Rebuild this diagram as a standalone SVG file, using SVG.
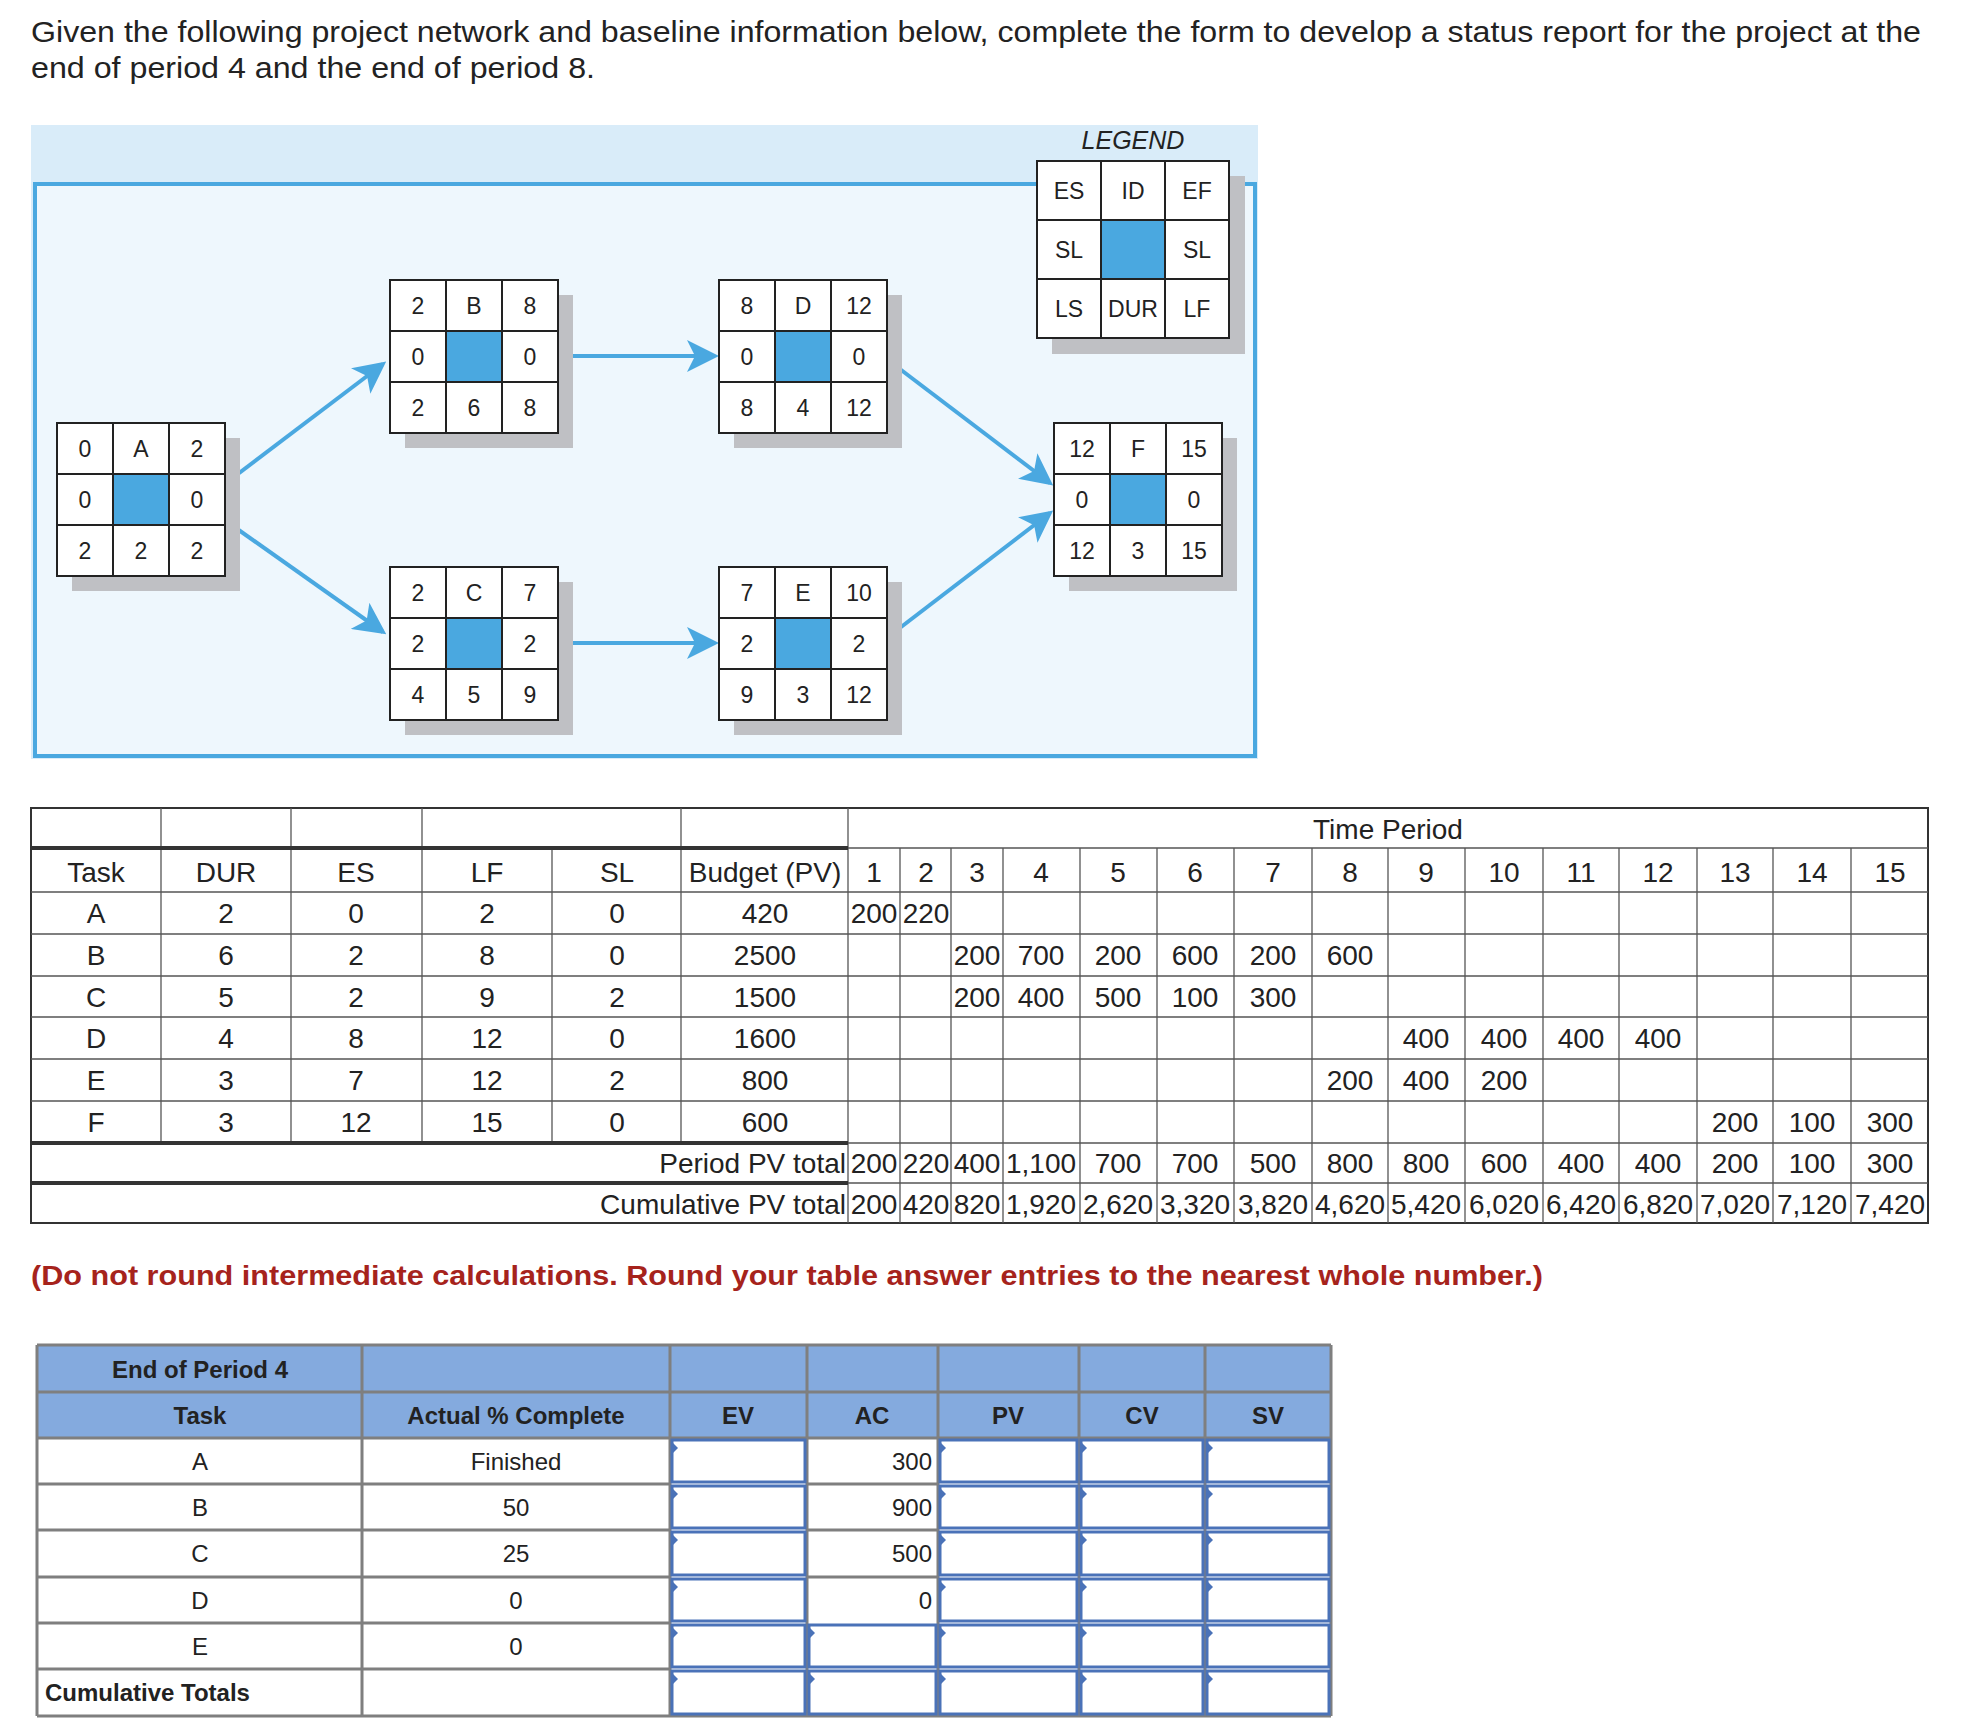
<svg xmlns="http://www.w3.org/2000/svg" width="1974" height="1720" viewBox="0 0 1974 1720">
<style>
text{font-family:"Liberation Sans",Arial,sans-serif;fill:#222}
.t{font-size:29px}
.n{font-size:23px;text-anchor:middle}
.cell{fill:#fff;stroke:#222;stroke-width:2}
.mid{fill:#4aa8e0;stroke:#222;stroke-width:2}
.sh{fill:#bfc0c4}
.tb{font-size:28px;text-anchor:middle}
.g{stroke:#555;stroke-width:1.3}
.gk{stroke:#333;stroke-width:4}
.h{font-size:24px;text-anchor:middle}
.hb{font-size:24px;text-anchor:middle;font-weight:bold}
.inp{fill:#fff;stroke:#4a72b8;stroke-width:3}
.tri{fill:#4a72b8}
.conn line{stroke:#4aa8e0;stroke-width:4}
</style>
<defs>
<marker id="ah" markerWidth="8" markerHeight="8" refX="7" refY="4" orient="auto" markerUnits="strokeWidth"><path d="M0,0 L8,4 L0,8 L2,4 Z" fill="#4aa8e0"/></marker>
</defs>
<rect width="1974" height="1720" fill="#fff"/>
<text class="t" x="31" y="42" textLength="1890" lengthAdjust="spacingAndGlyphs">Given the following project network and baseline information below, complete the form to develop a status report for the project at the</text>
<text class="t" x="31" y="78" textLength="564" lengthAdjust="spacingAndGlyphs">end of period 4 and the end of period 8.</text>
<rect x="31" y="125" width="1227" height="634" fill="#d9ecf9"/>
<rect x="35" y="184" width="1220" height="572" fill="#eef7fd" stroke="#4aa8e0" stroke-width="4"/>
<text x="1133" y="149" font-size="25" font-style="italic" text-anchor="middle">LEGEND</text>
<g id="legend">
<rect class="sh" x="1052" y="176" width="193" height="178"/>
<rect class="cell" x="1037" y="161" width="64" height="59"/><rect class="cell" x="1101" y="161" width="64" height="59"/><rect class="cell" x="1165" y="161" width="64" height="59"/>
<rect class="cell" x="1037" y="220" width="64" height="59"/><rect class="mid" x="1101" y="220" width="64" height="59"/><rect class="cell" x="1165" y="220" width="64" height="59"/>
<rect class="cell" x="1037" y="279" width="64" height="59"/><rect class="cell" x="1101" y="279" width="64" height="59"/><rect class="cell" x="1165" y="279" width="64" height="59"/>
<text class="n" x="1069" y="199">ES</text><text class="n" x="1133" y="199">ID</text><text class="n" x="1197" y="199">EF</text>
<text class="n" x="1069" y="258">SL</text><text class="n" x="1197" y="258">SL</text>
<text class="n" x="1069" y="317">LS</text><text class="n" x="1133" y="317">DUR</text><text class="n" x="1197" y="317">LF</text>
</g>
<g class="conn" id="connectors">
<line x1="226" y1="483" x2="383" y2="364" marker-end="url(#ah)"/>
<line x1="226" y1="521" x2="383" y2="632" marker-end="url(#ah)"/>
<line x1="559" y1="356" x2="715" y2="356" marker-end="url(#ah)"/>
<line x1="559" y1="643" x2="715" y2="643" marker-end="url(#ah)"/>
<line x1="888" y1="360" x2="1050" y2="483" marker-end="url(#ah)"/>
<line x1="888" y1="637" x2="1050" y2="513" marker-end="url(#ah)"/>
</g>
<g id="nodeA" transform="translate(57,423)">
<rect class="sh" x="15" y="15" width="168" height="153"/>
<rect class="cell" x="0" y="0" width="56" height="51"/><rect class="cell" x="56" y="0" width="56" height="51"/><rect class="cell" x="112" y="0" width="56" height="51"/>
<rect class="cell" x="0" y="51" width="56" height="51"/><rect class="mid" x="56" y="51" width="56" height="51"/><rect class="cell" x="112" y="51" width="56" height="51"/>
<rect class="cell" x="0" y="102" width="56" height="51"/><rect class="cell" x="56" y="102" width="56" height="51"/><rect class="cell" x="112" y="102" width="56" height="51"/>
<text class="n" x="28" y="34">0</text><text class="n" x="84" y="34">A</text><text class="n" x="140" y="34">2</text>
<text class="n" x="28" y="85">0</text><text class="n" x="140" y="85">0</text>
<text class="n" x="28" y="136">2</text><text class="n" x="84" y="136">2</text><text class="n" x="140" y="136">2</text>
</g>
<g id="nodeB" transform="translate(390,280)">
<rect class="sh" x="15" y="15" width="168" height="153"/>
<rect class="cell" x="0" y="0" width="56" height="51"/><rect class="cell" x="56" y="0" width="56" height="51"/><rect class="cell" x="112" y="0" width="56" height="51"/>
<rect class="cell" x="0" y="51" width="56" height="51"/><rect class="mid" x="56" y="51" width="56" height="51"/><rect class="cell" x="112" y="51" width="56" height="51"/>
<rect class="cell" x="0" y="102" width="56" height="51"/><rect class="cell" x="56" y="102" width="56" height="51"/><rect class="cell" x="112" y="102" width="56" height="51"/>
<text class="n" x="28" y="34">2</text><text class="n" x="84" y="34">B</text><text class="n" x="140" y="34">8</text>
<text class="n" x="28" y="85">0</text><text class="n" x="140" y="85">0</text>
<text class="n" x="28" y="136">2</text><text class="n" x="84" y="136">6</text><text class="n" x="140" y="136">8</text>
</g>
<g id="nodeC" transform="translate(390,567)">
<rect class="sh" x="15" y="15" width="168" height="153"/>
<rect class="cell" x="0" y="0" width="56" height="51"/><rect class="cell" x="56" y="0" width="56" height="51"/><rect class="cell" x="112" y="0" width="56" height="51"/>
<rect class="cell" x="0" y="51" width="56" height="51"/><rect class="mid" x="56" y="51" width="56" height="51"/><rect class="cell" x="112" y="51" width="56" height="51"/>
<rect class="cell" x="0" y="102" width="56" height="51"/><rect class="cell" x="56" y="102" width="56" height="51"/><rect class="cell" x="112" y="102" width="56" height="51"/>
<text class="n" x="28" y="34">2</text><text class="n" x="84" y="34">C</text><text class="n" x="140" y="34">7</text>
<text class="n" x="28" y="85">2</text><text class="n" x="140" y="85">2</text>
<text class="n" x="28" y="136">4</text><text class="n" x="84" y="136">5</text><text class="n" x="140" y="136">9</text>
</g>
<g id="nodeD" transform="translate(719,280)">
<rect class="sh" x="15" y="15" width="168" height="153"/>
<rect class="cell" x="0" y="0" width="56" height="51"/><rect class="cell" x="56" y="0" width="56" height="51"/><rect class="cell" x="112" y="0" width="56" height="51"/>
<rect class="cell" x="0" y="51" width="56" height="51"/><rect class="mid" x="56" y="51" width="56" height="51"/><rect class="cell" x="112" y="51" width="56" height="51"/>
<rect class="cell" x="0" y="102" width="56" height="51"/><rect class="cell" x="56" y="102" width="56" height="51"/><rect class="cell" x="112" y="102" width="56" height="51"/>
<text class="n" x="28" y="34">8</text><text class="n" x="84" y="34">D</text><text class="n" x="140" y="34">12</text>
<text class="n" x="28" y="85">0</text><text class="n" x="140" y="85">0</text>
<text class="n" x="28" y="136">8</text><text class="n" x="84" y="136">4</text><text class="n" x="140" y="136">12</text>
</g>
<g id="nodeE" transform="translate(719,567)">
<rect class="sh" x="15" y="15" width="168" height="153"/>
<rect class="cell" x="0" y="0" width="56" height="51"/><rect class="cell" x="56" y="0" width="56" height="51"/><rect class="cell" x="112" y="0" width="56" height="51"/>
<rect class="cell" x="0" y="51" width="56" height="51"/><rect class="mid" x="56" y="51" width="56" height="51"/><rect class="cell" x="112" y="51" width="56" height="51"/>
<rect class="cell" x="0" y="102" width="56" height="51"/><rect class="cell" x="56" y="102" width="56" height="51"/><rect class="cell" x="112" y="102" width="56" height="51"/>
<text class="n" x="28" y="34">7</text><text class="n" x="84" y="34">E</text><text class="n" x="140" y="34">10</text>
<text class="n" x="28" y="85">2</text><text class="n" x="140" y="85">2</text>
<text class="n" x="28" y="136">9</text><text class="n" x="84" y="136">3</text><text class="n" x="140" y="136">12</text>
</g>
<g id="nodeF" transform="translate(1054,423)">
<rect class="sh" x="15" y="15" width="168" height="153"/>
<rect class="cell" x="0" y="0" width="56" height="51"/><rect class="cell" x="56" y="0" width="56" height="51"/><rect class="cell" x="112" y="0" width="56" height="51"/>
<rect class="cell" x="0" y="51" width="56" height="51"/><rect class="mid" x="56" y="51" width="56" height="51"/><rect class="cell" x="112" y="51" width="56" height="51"/>
<rect class="cell" x="0" y="102" width="56" height="51"/><rect class="cell" x="56" y="102" width="56" height="51"/><rect class="cell" x="112" y="102" width="56" height="51"/>
<text class="n" x="28" y="34">12</text><text class="n" x="84" y="34">F</text><text class="n" x="140" y="34">15</text>
<text class="n" x="28" y="85">0</text><text class="n" x="140" y="85">0</text>
<text class="n" x="28" y="136">12</text><text class="n" x="84" y="136">3</text><text class="n" x="140" y="136">15</text>
</g>
<g id="pvtable">
<rect x="31" y="808" width="1897" height="415" fill="#fff" stroke="#333" stroke-width="2"/>
<g class="g">
<line x1="31" y1="848" x2="1928" y2="848"/><line x1="31" y1="892" x2="1928" y2="892"/><line x1="31" y1="934" x2="1928" y2="934"/><line x1="31" y1="976" x2="1928" y2="976"/><line x1="31" y1="1017" x2="1928" y2="1017"/><line x1="31" y1="1059" x2="1928" y2="1059"/><line x1="31" y1="1101" x2="1928" y2="1101"/><line x1="31" y1="1143" x2="1928" y2="1143"/><line x1="31" y1="1183" x2="1928" y2="1183"/>
<line x1="161" y1="808" x2="161" y2="1143"/><line x1="291" y1="808" x2="291" y2="1143"/><line x1="422" y1="808" x2="422" y2="1143"/><line x1="552" y1="848" x2="552" y2="1143"/><line x1="681" y1="808" x2="681" y2="1143"/><line x1="848" y1="808" x2="848" y2="1223"/>
<line x1="900" y1="848" x2="900" y2="1223"/><line x1="951" y1="848" x2="951" y2="1223"/><line x1="1003" y1="848" x2="1003" y2="1223"/><line x1="1080" y1="848" x2="1080" y2="1223"/><line x1="1157" y1="848" x2="1157" y2="1223"/><line x1="1234" y1="848" x2="1234" y2="1223"/><line x1="1312" y1="848" x2="1312" y2="1223"/><line x1="1388" y1="848" x2="1388" y2="1223"/><line x1="1465" y1="848" x2="1465" y2="1223"/><line x1="1543" y1="848" x2="1543" y2="1223"/><line x1="1619" y1="848" x2="1619" y2="1223"/><line x1="1697" y1="848" x2="1697" y2="1223"/><line x1="1773" y1="848" x2="1773" y2="1223"/><line x1="1851" y1="848" x2="1851" y2="1223"/>
</g>
<line class="gk" x1="31" y1="848" x2="848" y2="848"/><line class="gk" x1="31" y1="1143" x2="848" y2="1143"/><line class="gk" x1="31" y1="1183" x2="848" y2="1183"/>
<text class="tb" x="1388" y="839">Time Period</text>
<g class="tb">
<text class="tb" x="96" y="882">Task</text><text class="tb" x="226" y="882">DUR</text><text class="tb" x="356" y="882">ES</text><text class="tb" x="487" y="882">LF</text><text class="tb" x="617" y="882">SL</text><text class="tb" x="765" y="882">Budget (PV)</text>
<text class="tb" x="874" y="882">1</text><text class="tb" x="926" y="882">2</text><text class="tb" x="977" y="882">3</text><text class="tb" x="1041" y="882">4</text><text class="tb" x="1118" y="882">5</text><text class="tb" x="1195" y="882">6</text><text class="tb" x="1273" y="882">7</text><text class="tb" x="1350" y="882">8</text><text class="tb" x="1426" y="882">9</text><text class="tb" x="1504" y="882">10</text><text class="tb" x="1581" y="882">11</text><text class="tb" x="1658" y="882">12</text><text class="tb" x="1735" y="882">13</text><text class="tb" x="1812" y="882">14</text><text class="tb" x="1890" y="882">15</text>
</g>
<text class="tb" x="96" y="923">A</text><text class="tb" x="226" y="923">2</text><text class="tb" x="356" y="923">0</text><text class="tb" x="487" y="923">2</text><text class="tb" x="617" y="923">0</text><text class="tb" x="765" y="923">420</text><text class="tb" x="874" y="923">200</text><text class="tb" x="926" y="923">220</text>
<text class="tb" x="96" y="965">B</text><text class="tb" x="226" y="965">6</text><text class="tb" x="356" y="965">2</text><text class="tb" x="487" y="965">8</text><text class="tb" x="617" y="965">0</text><text class="tb" x="765" y="965">2500</text><text class="tb" x="977" y="965">200</text><text class="tb" x="1041" y="965">700</text><text class="tb" x="1118" y="965">200</text><text class="tb" x="1195" y="965">600</text><text class="tb" x="1273" y="965">200</text><text class="tb" x="1350" y="965">600</text>
<text class="tb" x="96" y="1007">C</text><text class="tb" x="226" y="1007">5</text><text class="tb" x="356" y="1007">2</text><text class="tb" x="487" y="1007">9</text><text class="tb" x="617" y="1007">2</text><text class="tb" x="765" y="1007">1500</text><text class="tb" x="977" y="1007">200</text><text class="tb" x="1041" y="1007">400</text><text class="tb" x="1118" y="1007">500</text><text class="tb" x="1195" y="1007">100</text><text class="tb" x="1273" y="1007">300</text>
<text class="tb" x="96" y="1048">D</text><text class="tb" x="226" y="1048">4</text><text class="tb" x="356" y="1048">8</text><text class="tb" x="487" y="1048">12</text><text class="tb" x="617" y="1048">0</text><text class="tb" x="765" y="1048">1600</text><text class="tb" x="1426" y="1048">400</text><text class="tb" x="1504" y="1048">400</text><text class="tb" x="1581" y="1048">400</text><text class="tb" x="1658" y="1048">400</text>
<text class="tb" x="96" y="1090">E</text><text class="tb" x="226" y="1090">3</text><text class="tb" x="356" y="1090">7</text><text class="tb" x="487" y="1090">12</text><text class="tb" x="617" y="1090">2</text><text class="tb" x="765" y="1090">800</text><text class="tb" x="1350" y="1090">200</text><text class="tb" x="1426" y="1090">400</text><text class="tb" x="1504" y="1090">200</text>
<text class="tb" x="96" y="1132">F</text><text class="tb" x="226" y="1132">3</text><text class="tb" x="356" y="1132">12</text><text class="tb" x="487" y="1132">15</text><text class="tb" x="617" y="1132">0</text><text class="tb" x="765" y="1132">600</text><text class="tb" x="1735" y="1132">200</text><text class="tb" x="1812" y="1132">100</text><text class="tb" x="1890" y="1132">300</text>
<text x="846" y="1173" font-size="28" text-anchor="end">Period PV total</text>
<text class="tb" x="874" y="1173">200</text><text class="tb" x="926" y="1173">220</text><text class="tb" x="977" y="1173">400</text><text class="tb" x="1041" y="1173">1,100</text><text class="tb" x="1118" y="1173">700</text><text class="tb" x="1195" y="1173">700</text><text class="tb" x="1273" y="1173">500</text><text class="tb" x="1350" y="1173">800</text><text class="tb" x="1426" y="1173">800</text><text class="tb" x="1504" y="1173">600</text><text class="tb" x="1581" y="1173">400</text><text class="tb" x="1658" y="1173">400</text><text class="tb" x="1735" y="1173">200</text><text class="tb" x="1812" y="1173">100</text><text class="tb" x="1890" y="1173">300</text>
<text x="846" y="1214" font-size="28" text-anchor="end">Cumulative PV total</text>
<text class="tb" x="874" y="1214">200</text><text class="tb" x="926" y="1214">420</text><text class="tb" x="977" y="1214">820</text><text class="tb" x="1041" y="1214">1,920</text><text class="tb" x="1118" y="1214">2,620</text><text class="tb" x="1195" y="1214">3,320</text><text class="tb" x="1273" y="1214">3,820</text><text class="tb" x="1350" y="1214">4,620</text><text class="tb" x="1426" y="1214">5,420</text><text class="tb" x="1504" y="1214">6,020</text><text class="tb" x="1581" y="1214">6,420</text><text class="tb" x="1658" y="1214">6,820</text><text class="tb" x="1735" y="1214">7,020</text><text class="tb" x="1812" y="1214">7,120</text><text class="tb" x="1890" y="1214">7,420</text>
</g>
<text x="31" y="1285" font-size="27" font-weight="bold" style="fill:#a6231c" textLength="1512" lengthAdjust="spacingAndGlyphs">(Do not round intermediate calculations. Round your table answer entries to the nearest whole number.)</text>
<g id="statustable">
<rect x="37" y="1345" width="1294" height="93" fill="#84aade"/>
<rect x="37" y="1438" width="1294" height="278" fill="#fff"/>
<g stroke="#7f7f7f" stroke-width="3">
<line x1="37" y1="1345" x2="1331" y2="1345"/><line x1="37" y1="1392" x2="1331" y2="1392"/><line x1="37" y1="1438" x2="1331" y2="1438"/><line x1="37" y1="1484" x2="670" y2="1484"/><line x1="37" y1="1530" x2="670" y2="1530"/><line x1="37" y1="1577" x2="670" y2="1577"/><line x1="37" y1="1623" x2="670" y2="1623"/><line x1="37" y1="1669" x2="670" y2="1669"/><line x1="37" y1="1716" x2="1331" y2="1716"/>
<line x1="37" y1="1345" x2="37" y2="1716"/><line x1="362" y1="1345" x2="362" y2="1716"/><line x1="670" y1="1345" x2="670" y2="1716"/><line x1="807" y1="1345" x2="807" y2="1716"/><line x1="938" y1="1345" x2="938" y2="1716"/><line x1="1079" y1="1345" x2="1079" y2="1716"/><line x1="1205" y1="1345" x2="1205" y2="1716"/><line x1="1331" y1="1345" x2="1331" y2="1716"/>
<line x1="807" y1="1484" x2="938" y2="1484"/><line x1="807" y1="1530" x2="938" y2="1530"/><line x1="807" y1="1577" x2="938" y2="1577"/>
</g>
<text x="200" y="1378" class="hb">End of Period 4</text>
<text x="200" y="1424" class="hb">Task</text><text x="516" y="1424" class="hb">Actual % Complete</text><text x="738" y="1424" class="hb">EV</text><text x="872" y="1424" class="hb">AC</text><text x="1008" y="1424" class="hb">PV</text><text x="1142" y="1424" class="hb">CV</text><text x="1268" y="1424" class="hb">SV</text>
<text x="200" y="1470" class="h">A</text><text x="516" y="1470" class="h">Finished</text><text x="932" y="1470" class="h" text-anchor="end" style="text-anchor:end">300</text>
<text x="200" y="1516" class="h">B</text><text x="516" y="1516" class="h">50</text><text x="932" y="1516" style="text-anchor:end;font-size:24px">900</text>
<text x="200" y="1562" class="h">C</text><text x="516" y="1562" class="h">25</text><text x="932" y="1562" style="text-anchor:end;font-size:24px">500</text>
<text x="200" y="1609" class="h">D</text><text x="516" y="1609" class="h">0</text><text x="932" y="1609" style="text-anchor:end;font-size:24px">0</text>
<text x="200" y="1655" class="h">E</text><text x="516" y="1655" class="h">0</text>
<text x="45" y="1701" font-size="24" font-weight="bold">Cumulative Totals</text>
<g id="inputs">
<rect class="inp" x="672" y="1440" width="133" height="42"/><rect class="inp" x="940" y="1440" width="137" height="42"/><rect class="inp" x="1081" y="1440" width="122" height="42"/><rect class="inp" x="1207" y="1440" width="122" height="42"/>
<rect class="inp" x="672" y="1486" width="133" height="42"/><rect class="inp" x="940" y="1486" width="137" height="42"/><rect class="inp" x="1081" y="1486" width="122" height="42"/><rect class="inp" x="1207" y="1486" width="122" height="42"/>
<rect class="inp" x="672" y="1532" width="133" height="43"/><rect class="inp" x="940" y="1532" width="137" height="43"/><rect class="inp" x="1081" y="1532" width="122" height="43"/><rect class="inp" x="1207" y="1532" width="122" height="43"/>
<rect class="inp" x="672" y="1579" width="133" height="42"/><rect class="inp" x="940" y="1579" width="137" height="42"/><rect class="inp" x="1081" y="1579" width="122" height="42"/><rect class="inp" x="1207" y="1579" width="122" height="42"/>
<rect class="inp" x="672" y="1625" width="133" height="42"/><rect class="inp" x="809" y="1625" width="127" height="42"/><rect class="inp" x="940" y="1625" width="137" height="42"/><rect class="inp" x="1081" y="1625" width="122" height="42"/><rect class="inp" x="1207" y="1625" width="122" height="42"/>
<rect class="inp" x="672" y="1671" width="133" height="43"/><rect class="inp" x="809" y="1671" width="127" height="43"/><rect class="inp" x="940" y="1671" width="137" height="43"/><rect class="inp" x="1081" y="1671" width="122" height="43"/><rect class="inp" x="1207" y="1671" width="122" height="43"/>
</g>
<g class="tri">
<path d="M672,1442 l6,6 l-6,6 Z"/><path d="M940,1442 l6,6 l-6,6 Z"/><path d="M1081,1442 l6,6 l-6,6 Z"/><path d="M1207,1442 l6,6 l-6,6 Z"/>
<path d="M672,1488 l6,6 l-6,6 Z"/><path d="M940,1488 l6,6 l-6,6 Z"/><path d="M1081,1488 l6,6 l-6,6 Z"/><path d="M1207,1488 l6,6 l-6,6 Z"/>
<path d="M672,1534 l6,6 l-6,6 Z"/><path d="M940,1534 l6,6 l-6,6 Z"/><path d="M1081,1534 l6,6 l-6,6 Z"/><path d="M1207,1534 l6,6 l-6,6 Z"/>
<path d="M672,1581 l6,6 l-6,6 Z"/><path d="M940,1581 l6,6 l-6,6 Z"/><path d="M1081,1581 l6,6 l-6,6 Z"/><path d="M1207,1581 l6,6 l-6,6 Z"/>
<path d="M672,1627 l6,6 l-6,6 Z"/><path d="M809,1627 l6,6 l-6,6 Z"/><path d="M940,1627 l6,6 l-6,6 Z"/><path d="M1081,1627 l6,6 l-6,6 Z"/><path d="M1207,1627 l6,6 l-6,6 Z"/>
<path d="M672,1673 l6,6 l-6,6 Z"/><path d="M809,1673 l6,6 l-6,6 Z"/><path d="M940,1673 l6,6 l-6,6 Z"/><path d="M1081,1673 l6,6 l-6,6 Z"/><path d="M1207,1673 l6,6 l-6,6 Z"/>
</g>
</g>
</svg>
